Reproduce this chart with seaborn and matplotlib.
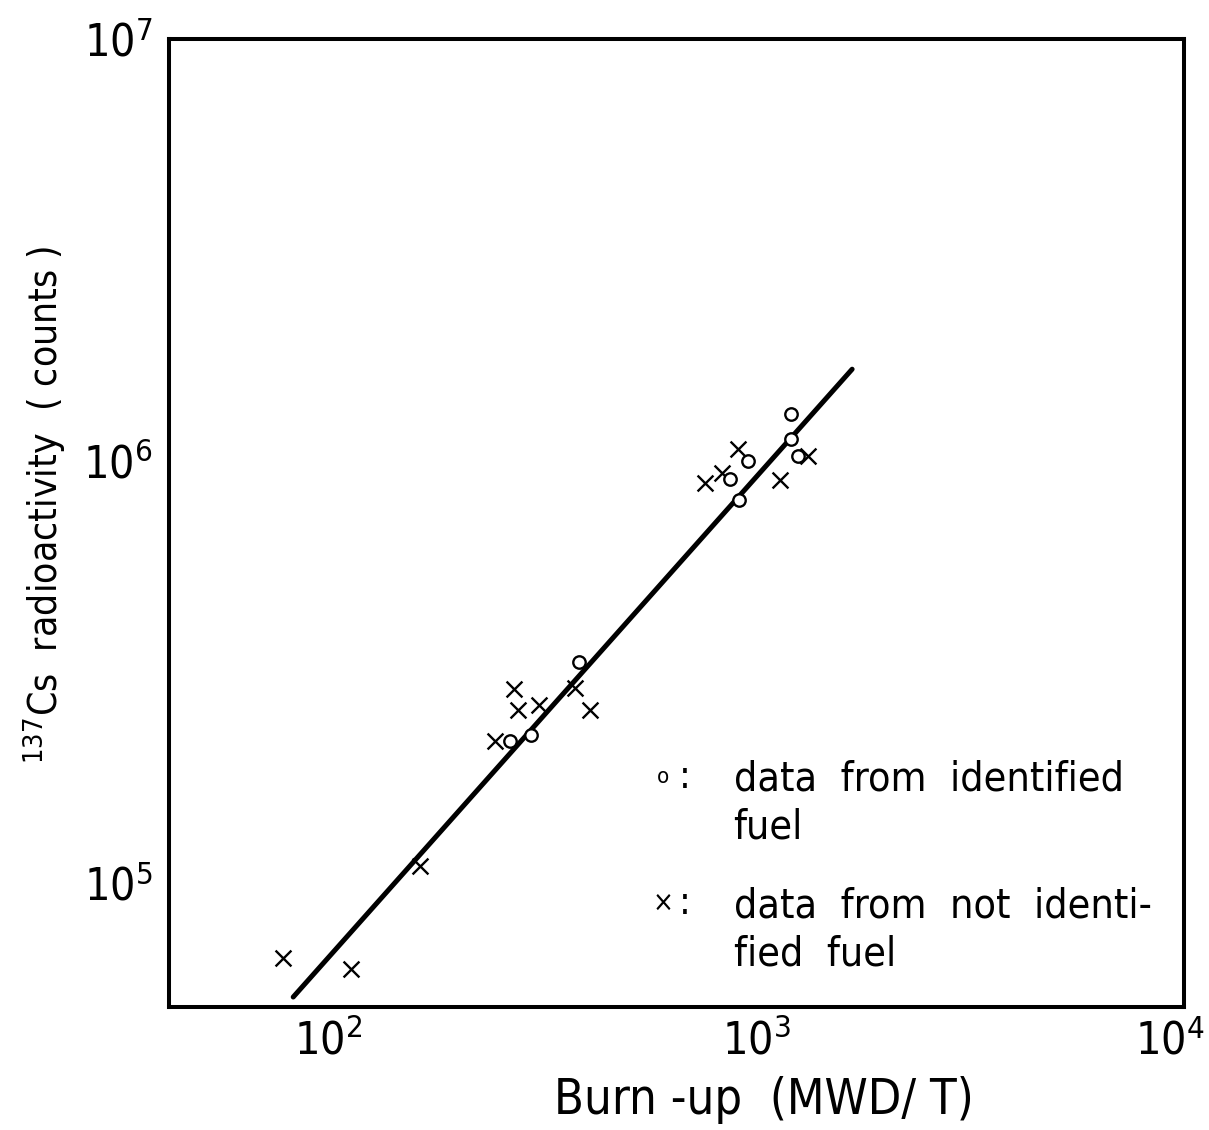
import matplotlib
matplotlib.use("Agg")
import matplotlib.pyplot as plt
import matplotlib.transforms as mtransforms
import seaborn as sns

# data (burn-up in MWD/T, 137Cs counts)
ident_burnup = [1208, 1208, 958, 869, 912, 1253, 386, 297, 266]
ident_counts = [1.29e6, 1.13e6, 1.0e6, 9.07e5, 8.09e5, 1.03e6, 3.34e5, 2.24e5, 2.17e5]

unident_burnup = [908, 833, 757, 1138, 1322, 271, 278, 311, 378, 409, 245, 164, 78.5, 113]
unident_counts = [1.07e6, 9.37e5, 8.87e5, 9.02e5, 1.03e6, 2.88e5, 2.57e5, 2.64e5,
                  2.90e5, 2.57e5, 2.17e5, 1.10e5, 6.65e4, 6.27e4]

# fitted line end points
fit_burnup = [82.8, 1675]
fit_counts = [5.38e4, 1.65e6]

x_ticks = [1e2, 1e3, 1e4]
x_ticklabels = ["$10^{2}$", "$10^{3}$", "$10^{4}$"]
y_ticks = [1e5, 1e6, 1e7]
y_ticklabels = ["$10^{5}$", "$10^{6}$", "$10^{7}$"]

sns.set_style("white")
plt.rcParams['font.family'] = ['DejaVu Sans']
plt.rcParams['font.stretch'] = 'condensed'
plt.rcParams['mathtext.default'] = 'regular'
plt.rcParams['text.color'] = 'black'
plt.rcParams['axes.labelcolor'] = 'black'

fig = plt.figure(figsize=(12.09, 11.30), dpi=100)
ax = fig.add_axes([0.140, 0.109, 0.8395, 0.8567])
ax.set_xscale("log")
ax.set_yscale("log")

sns.lineplot(x=fit_burnup, y=fit_counts, ax=ax, color="black", linewidth=3.6,
             sort=False, zorder=2)
sns.scatterplot(x=unident_burnup, y=unident_counts, ax=ax, marker="x", color="black",
                s=130, linewidth=1.7, zorder=3)
sns.scatterplot(x=ident_burnup, y=ident_counts, ax=ax, marker="o", facecolor="white",
                edgecolor="black", s=80, linewidth=1.7, zorder=4)

ax.set_xlim(42.5, 1e4)
ax.set_ylim(5.1e4, 1e7)
ax.set_xticks(x_ticks)
ax.set_xticklabels(x_ticklabels)
ax.set_yticks(y_ticks)
ax.set_yticklabels(y_ticklabels)
ax.minorticks_off()
ax.tick_params(direction="in", length=14, width=1.6, labelsize=32, colors="black", pad=9)
ax.tick_params(axis="y", pad=12)

# nudge the last x label so it stays inside the figure
last = ax.get_xticklabels()[-1]
last.set_transform(last.get_transform() + mtransforms.ScaledTranslation(-14 / 100, 0, fig.dpi_scale_trans))

for sp in ax.spines.values():
    sp.set_linewidth(2.9)
    sp.set_color("black")

ax.set_xlabel("Burn -up  (MWD/ T)", fontsize=35)
ax.xaxis.set_label_coords(0.586, -0.071)
ax.set_ylabel("$^{137}$Cs  radioactivity  ( counts )", fontsize=28)
ax.yaxis.set_label_coords(-0.100, 0.519)

# hand-lettered key
ax.text(0.486, 0.237, "o", transform=ax.transAxes, fontsize=16, ha="center", va="center")
ax.text(0.508, 0.237, ":", transform=ax.transAxes, fontsize=28, ha="center", va="center")
ax.text(0.556, 0.210, "data  from  identified\nfuel", transform=ax.transAxes,
        fontsize=29.5, ha="left", va="center", linespacing=1.25)
ax.text(0.486, 0.107, "×", transform=ax.transAxes, fontsize=20, ha="center", va="center")
ax.text(0.508, 0.107, ":", transform=ax.transAxes, fontsize=28, ha="center", va="center")
ax.text(0.556, 0.079, "data  from  not  identi-\nfied  fuel", transform=ax.transAxes,
        fontsize=29.5, ha="left", va="center", linespacing=1.25)

fig.savefig("out.png", dpi=100)
